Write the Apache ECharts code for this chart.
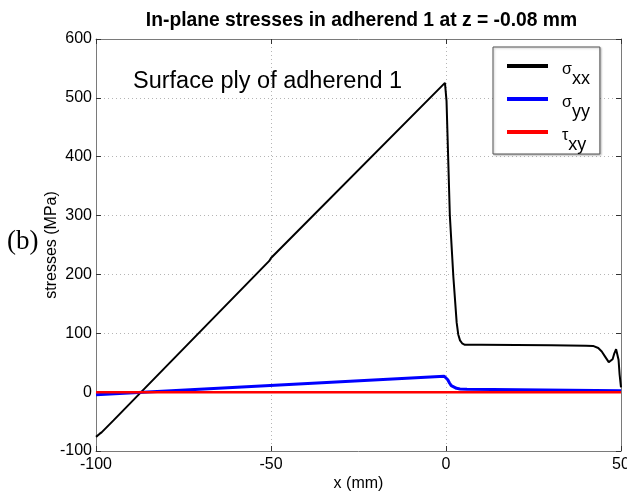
<!DOCTYPE html>
<html><head><meta charset="utf-8">
<script src="https://cdn.jsdelivr.net/npm/echarts@6/dist/echarts.min.js"></script>
<style>html,body{margin:0;padding:0;background:#fff}#c{width:627px;height:496px}</style>
</head><body><div id="c"></div>
<script>
const xTicks = [-100, -50, 0, 50];
const yTicks = [-100, 0, 100, 200, 300, 400, 500, 600];

const sxxX = [-100, -99.5, -99, -98.4, -95, -50.5, -50.2, -50.0, -49.7, -0.3, 0.15, 1.1, 2.1, 2.6, 3.05, 3.5, 4, 4.6, 5.4, 10, 20, 30, 40, 42, 43.5, 44.5, 45.5, 46.5, 47, 47.6, 48.1, 48.6, 49, 49.3, 49.6, 50];
const sxxY = [-76, -73, -71, -68.4, -48, 223, 222, 228, 229, 525.5, 495, 300, 196, 155, 118, 98, 88, 83, 80.5, 80.5, 80, 79.5, 79, 78.5, 75, 69, 60, 51, 49.5, 56, 66, 73, 70, 55, 30, 8];

const syyX = [-100, -0.5, 0, 0.5, 1, 1.5, 2, 3, 4, 6, 50];
const syyY = [-4.5, 27, 26, 21, 15.5, 11, 8.5, 6.5, 5.5, 5, 2.5];

const txyX = [-100, 50];
const txyY = [0, 0];

const seriesNames = ['σxx', 'σyy', 'τxy'];
const legendLabels = ['{g|σ}{s|xx}', '{g|σ}{s|yy}', '{g|τ}{s|xy}'];

function zip(a, b) { return a.map((v, i) => [v, b[i]]); }

const chart = echarts.init(document.getElementById('c'), null, {renderer: 'canvas'});
const font = 'Liberation Sans, Arial, Helvetica, sans-serif';
const frameColor = '#7a7a7a';

const axisBase = {
  type: 'value',
  axisLine: {show: true, onZero: false, lineStyle: {color: frameColor, width: 1}},
  axisTick: {show: true, inside: true, length: 5, lineStyle: {color: '#333'}},
};

chart.setOption({
  animation: false,
  backgroundColor: '#fff',
  title: {
    text: 'In-plane stresses in adherend 1 at z = -0.08 mm',
    left: 356.5, top: 6, textAlign: 'center',
    textStyle: {fontFamily: font, fontSize: 19.3, fontWeight: 'bold', color: '#000'}
  },
  grid: {left: 96, right: 6, top: 39, bottom: 45, containLabel: false, outerBoundsMode: 'none'},
  xAxis: [
    Object.assign({}, axisBase, {
      min: xTicks[0], max: xTicks[xTicks.length - 1], interval: xTicks[1] - xTicks[0],
      position: 'bottom',
      name: 'x (mm)', nameLocation: 'middle', nameGap: 25, nameMoveOverlap: false,
      nameTextStyle: {fontFamily: font, fontSize: 16, color: '#000'},
      axisLabel: {fontFamily: font, fontSize: 16, color: '#000', margin: 6},
      splitLine: {show: true, lineStyle: {color: '#b5b5b5', type: [1, 3], width: 1}}
    }),
    Object.assign({}, axisBase, {
      min: xTicks[0], max: xTicks[xTicks.length - 1], interval: xTicks[1] - xTicks[0],
      position: 'top', axisLabel: {show: false}, splitLine: {show: false}
    })
  ],
  yAxis: [
    Object.assign({}, axisBase, {
      min: yTicks[0], max: yTicks[yTicks.length - 1], interval: yTicks[1] - yTicks[0],
      position: 'left',
      name: 'stresses (MPa)', nameLocation: 'middle', nameGap: 36, nameRotate: 90, nameMoveOverlap: false,
      nameTextStyle: {fontFamily: font, fontSize: 16, color: '#000'},
      axisLabel: {fontFamily: font, fontSize: 16, color: '#000', margin: 4},
      splitLine: {show: true, lineStyle: {color: '#b5b5b5', type: [1, 3], width: 1}}
    }),
    Object.assign({}, axisBase, {
      min: yTicks[0], max: yTicks[yTicks.length - 1], interval: yTicks[1] - yTicks[0],
      position: 'right', axisLabel: {show: false}, splitLine: {show: false}
    })
  ],
  legend: {
    orient: 'vertical', left: 493, top: 47,
    padding: [10, 10, 0, 14],
    itemGap: 2, itemWidth: 41, itemHeight: 4, icon: 'rect',
    backgroundColor: '#fff', borderColor: '#555', borderWidth: 1,
    shadowColor: 'rgba(0,0,0,0.25)', shadowBlur: 2, shadowOffsetX: 1, shadowOffsetY: 1,
    data: seriesNames,
    formatter: function (name) { return legendLabels[seriesNames.indexOf(name)]; },
    textStyle: {
      fontFamily: font, color: '#000',
      rich: {
        g: {fontFamily: font, fontSize: 16, lineHeight: 16, padding: [5, 0, 0, 9], verticalAlign: 'top', color: '#000'},
        s: {fontFamily: font, fontSize: 18, lineHeight: 18, padding: [13, 0, 0, 0], verticalAlign: 'top', color: '#000'}
      }
    }
  },
  graphic: [
    {type: 'text', left: 133, top: 70, z: 100,
     style: {text: 'Surface ply of adherend 1', fontFamily: font, fontSize: 23.5, fill: '#000'}},
    {type: 'text', left: 7, top: 228, z: 100,
     style: {text: '(b)', fontFamily: 'Liberation Serif, Times New Roman, serif', fontSize: 27, fill: '#000'}}
  ],
  series: [
    {name: seriesNames[0], type: 'line', data: zip(sxxX, sxxY), showSymbol: false, symbol: 'none',
     lineStyle: {color: '#000', width: 2}, itemStyle: {color: '#000'}, z: 3},
    {name: seriesNames[1], type: 'line', data: zip(syyX, syyY), showSymbol: false, symbol: 'none',
     lineStyle: {color: '#0000ff', width: 3}, itemStyle: {color: '#0000ff'}, z: 4},
    {name: seriesNames[2], type: 'line', data: zip(txyX, txyY), showSymbol: false, symbol: 'none',
     lineStyle: {color: '#ff0000', width: 2.5}, itemStyle: {color: '#ff0000'}, z: 5}
  ]
});
</script>
</body></html>
